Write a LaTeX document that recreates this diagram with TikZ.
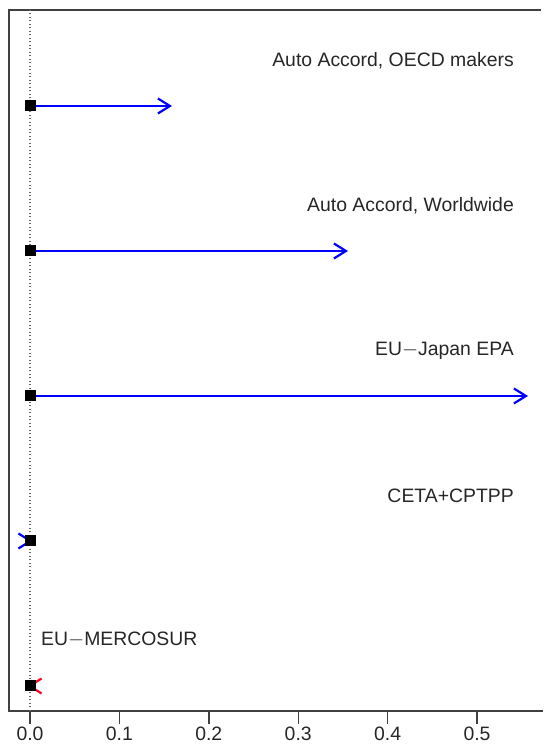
\documentclass[tikz,border=0pt]{standalone}
\usepackage{fontspec}
\setmainfont{Liberation Sans}
\usetikzlibrary{positioning}
\usetikzlibrary{arrows.meta}

\begin{document}
\begin{tikzpicture}
	[	x=1pt, y=1pt,
		frame/.style={draw=black!75,line width=1.4pt},
		est/.style={rectangle,fill=black,inner sep=0pt,minimum size=11pt},
		vec/.style={-{Straight Barb[length=12pt,width=15pt]},line width=2.2pt},
		lbl/.style={inner sep=0pt,font=\fontsize{19.4}{22}\selectfont,text=black!85},
		zeroline/.style={draw=black!60,line width=1.1pt,dash pattern=on 1pt off 2.5pt}	]
	\useasboundingbox (0,0) rectangle (545,755);
	% frame and axis
	\draw[frame] (543,44) -- (9,44) -- (9,745) -- (541,745);
	\foreach \i in {0,...,5}
	{
		\coordinate (tick\i) at (30+89.4*\i,44);
		\draw[frame] (tick\i) -- ++(0,-13);
		\node[lbl] (ticklbl\i) [below = 16pt of tick\i] {0.\i};
	}
	\coordinate (ztop) at (30,745);
	\draw[zeroline] (tick0) -- (ztop);
	% estimates
	\coordinate (e1) at (172,649);
	\coordinate (e2) at (348,504);
	\coordinate (e3) at (528,359);
	\coordinate (e4) at (32.5,214);
	\coordinate (e5) at (27.5,69);
	\coordinate (s1) at (30,649);
	\coordinate (s2) at (30,504);
	\coordinate (s3) at (30,359);
	\coordinate (s4) at (30,214);
	\coordinate (s5) at (30,69);
	\draw[vec,blue] (s1) -- (e1);
	\draw[vec,blue] (s2) -- (e2);
	\draw[vec,blue] (s3) -- (e3);
	\draw[vec,blue] (s4) -- (e4);
	\draw[vec,red!85!magenta] (s5) -- (e5);
	\foreach \k in {1,...,5}
		\node[est] (pt\k) at (s\k) {};
	% labels
	\node[lbl,anchor=east] (name1) at (514,694) {Auto Accord, OECD makers};
	\node[lbl,anchor=east] (name2) at (514,549) {Auto Accord, Worldwide};
	\node[lbl,anchor=east] (name3) at (514,404) {EU\(-\)Japan EPA};
	\node[lbl,anchor=east] (name4) at (514,259) {CETA+CPTPP};
	\node[lbl,anchor=west] (name5) at (41,115) {EU\(-\)MERCOSUR};
\end{tikzpicture}
\end{document}
